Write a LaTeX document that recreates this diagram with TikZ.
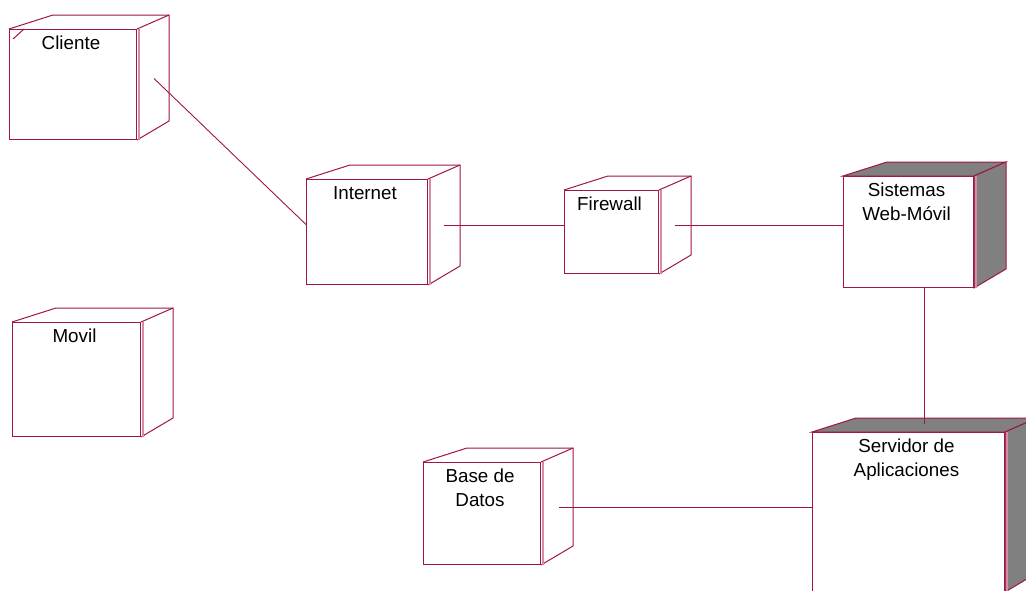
\documentclass[tikz,border=0pt]{standalone}
\usepackage{fontspec}
\setmainfont{Liberation Sans}

\definecolor{granate}{RGB}{160,20,72}
\definecolor{rosado}{RGB}{215,140,165}

\begin{document}
\begin{tikzpicture}[x=1pt, y=-1pt]
\tikzstyle{nodo} = [rectangle, draw = granate, line width = 1pt, fill = white, anchor = north west, inner sep = 0pt]
\tikzstyle{titulo} = [anchor = north, align = center, inner sep = 0pt, font = \fontsize{18.8}{24}\selectfont, text = black, shift = {(-2,7)}]
\tikzstyle{cara} = [draw = granate, line width = 1pt]
\tikzstyle{sombra} = [draw = granate, line width = 1pt, fill = gray]
\tikzstyle{brillo} = [draw = rosado, line width = 2pt]
\tikzstyle{edge} = [draw = granate, line width = 0.9pt]
\useasboundingbox (0,0) rectangle (1026,590);
\clip (0,0) rectangle (1026,590);
% -----------------------------------
% Nodos
\node[nodo, minimum width = 127pt, minimum height = 110pt, label = {[titulo]north:Cliente}] (cli) at (9, 29) {};
\node[nodo, minimum width = 128pt, minimum height = 114pt, label = {[titulo]north:Movil}] (mov) at (12, 322) {};
\node[nodo, minimum width = 121pt, minimum height = 105pt, label = {[titulo]north:Internet}] (int) at (306, 179) {};
\node[nodo, minimum width = 94pt, minimum height = 83pt, label = {[titulo]north:Firewall}] (fw) at (564, 190) {};
\node[nodo, minimum width = 130pt, minimum height = 111pt, label = {[titulo]north:{Sistemas\\Web-Móvil}}] (sis) at (843, 176) {};
\node[nodo, minimum width = 192pt, minimum height = 159pt, label = {[titulo]north:{Servidor de\\Aplicaciones}}] (srv) at (812, 432) {};
\node[nodo, minimum width = 117pt, minimum height = 102pt, label = {[titulo]north:{Base de\\Datos}}] (bd) at (423, 462) {};

% -----------------------------------
% Caras laterales
\foreach \n in {cli, mov, int, fw, bd} {
  \draw[cara] (\n.north west) -- ([shift={(44,-14)}]\n.north west) -- ([shift={(32,-14)}]\n.north east) -- ([shift={(32,-19)}]\n.south east) -- (\n.south east);
  \draw[cara] (\n.north east) -- ([shift={(32,-14)}]\n.north east);
}
\foreach \n in {sis, srv} {
  \filldraw[sombra] (\n.north west) -- ([shift={(44,-14)}]\n.north west) -- ([shift={(32,-14)}]\n.north east) -- (\n.north east) -- cycle;
  \filldraw[sombra] (\n.north east) -- ([shift={(32,-14)}]\n.north east) -- ([shift={(32,-19)}]\n.south east) -- (\n.south east) -- cycle;
}
\foreach \n in {cli, mov, int, fw, sis, srv, bd}
  \draw[brillo] ([shift={(1.8,0)}]\n.north east) -- ([shift={(1.8,0)}]\n.south east);
\draw[cara] ([shift={(4,10)}]cli.north west) -- ([shift={(15,0)}]cli.north west);

% -----------------------------------
% Conexiones
\coordinate (cli-c) at ([shift={(17,-6)}]cli.east);
\coordinate (int-c) at ([shift={(16,-6.5)}]int.east);
\coordinate (fw-c) at ([shift={(16,-6.5)}]fw.east);
\coordinate (bd-c) at ([shift={(18,-6)}]bd.east);
\coordinate (srv-c) at ([shift={(16,-8)}]srv.north);

\draw[edge] (cli-c) -- ([shift={(0,-7.5)}]int.west);
\draw[edge] (int-c) -- (int-c -| fw.west);
\draw[edge] (fw-c) -- (fw-c -| sis.west);
\draw[edge] (srv-c |- sis.south) -- (srv-c);
\draw[edge] (bd-c) -- (bd-c -| srv.west);
% -----------------------------------
\end{tikzpicture}
\end{document}
